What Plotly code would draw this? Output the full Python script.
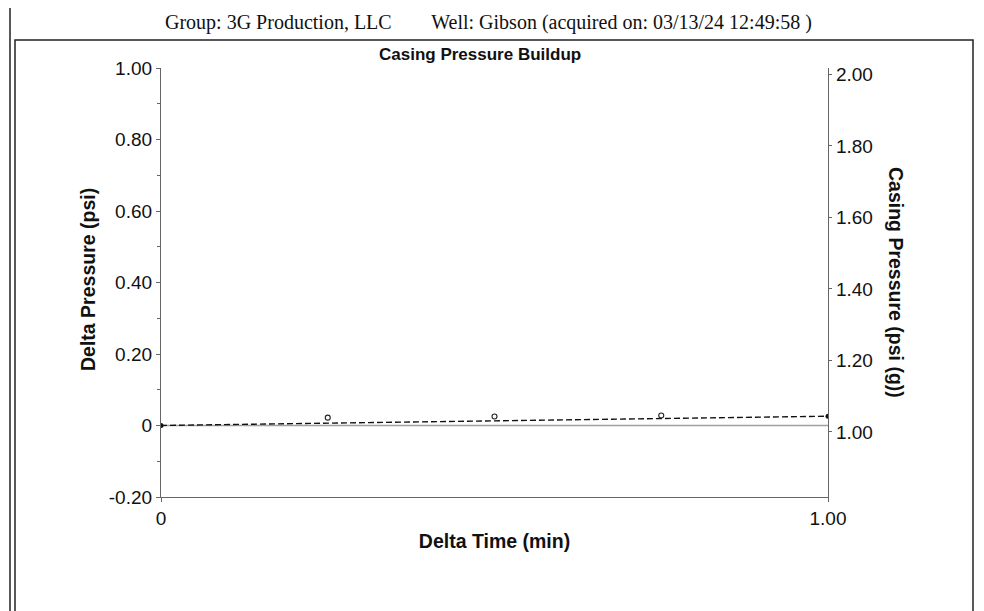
import plotly.graph_objects as go

# ---- data ----
delta_time_pts = [0.25, 0.5, 0.75]
delta_pressure_pts = [0.022, 0.025, 0.028]
trend_time = [0.0, 1.0]
trend_pressure = [0.0, 0.026]
zero_line_x = [0.0, 1.0]
zero_line_y = [0.0, 0.0]

left_ticks = [-0.2, 0.0, 0.2, 0.4, 0.6, 0.8, 1.0]
left_tick_text = ["-0.20", "0", "0.20", "0.40", "0.60", "0.80", "1.00"]
right_ticks = [1.0, 1.2, 1.4, 1.6, 1.8, 2.0]
right_tick_text = ["1.00", "1.20", "1.40", "1.60", "1.80", "2.00"]
x_ticks = [0.0, 1.0]
x_tick_text = ["0", "1.00"]

OFF = 8  # page body margin
W, H = 984 - OFF, 611 - OFF
# screen-space plot box
SL, SR, ST, SB = 161, 828, 68, 497
L, R, T, B = SL - OFF, SR - OFF, ST - OFF, SB - OFF

def px(x):  # screen x -> paper
    return (x - SL) / (SR - SL)

def py(y):  # screen y -> paper
    return (SB - y) / (SB - ST)

fig = go.Figure()
fig.add_trace(go.Scatter(x=zero_line_x, y=zero_line_y, mode="lines",
                         line=dict(color="#a0a0a0", width=1.3), showlegend=False,
                         hoverinfo="skip"))
fig.add_trace(go.Scatter(x=trend_time, y=trend_pressure, mode="lines+markers",
                         line=dict(color="#111", width=1.4, dash="6px,3px"),
                         marker=dict(size=5, color="#111"), showlegend=False))
fig.add_trace(go.Scatter(x=delta_time_pts, y=delta_pressure_pts, mode="markers",
                         marker=dict(size=5, symbol="circle-open", color="#222",
                                     line=dict(width=1.1)), showlegend=False))
# invisible trace for right axis
fig.add_trace(go.Scatter(x=[0], y=[1.0], yaxis="y2", mode="markers",
                         marker=dict(opacity=0), showlegend=False, hoverinfo="skip"))

tickfont = dict(family="Liberation Sans, Arial", size=19, color="#111")
titlefont = dict(family="Liberation Sans, Arial", size=19.5, color="#111")

fig.update_layout(
    width=W, height=H,
    margin=dict(l=L, r=W - R, t=T, b=H - B),
    paper_bgcolor="white", plot_bgcolor="white",
    xaxis=dict(range=[0, 1.0], tickvals=x_ticks, ticktext=x_tick_text,
               showgrid=False, zeroline=False, showline=True, linecolor="#666",
               linewidth=1.2, ticks="outside", ticklen=4, tickcolor="#666",
               tickfont=tickfont,
               title=dict(text="<b>Delta Time (min)</b>", font=titlefont, standoff=6)),
    yaxis=dict(range=[-0.2, 1.0], tickvals=left_ticks, ticktext=left_tick_text,
               showgrid=False, zeroline=False, showline=True, linecolor="#666",
               linewidth=1.2, ticks="outside", ticklen=4, tickcolor="#666",
               tickfont=tickfont,
               minor=dict(dtick=0.1, tick0=0, ticks="outside", ticklen=3, tickcolor="#666"),
               title=dict(text="", font=titlefont)),
    yaxis2=dict(range=[0.818, 2.018], tickvals=right_ticks, ticktext=right_tick_text,
                overlaying="y", side="right", showgrid=False, zeroline=False,
                showline=True, linecolor="#666", linewidth=1.2, ticks="outside",
                ticklen=3, tickcolor="#666", tickfont=tickfont),
    font=dict(family="Liberation Sans, Arial"),
)

ann = dict(xref="paper", yref="paper", showarrow=False, xanchor="center", yanchor="middle")
# titles
fig.add_annotation(x=px(480), y=py(54), text="<b>Casing Pressure Buildup</b>",
                   font=dict(family="Liberation Sans, Arial", size=17, color="#111"), **ann)
fig.add_annotation(x=px(488), y=py(22),
                   text="Group: 3G Production, LLC &nbsp;&nbsp;&nbsp;&nbsp;&nbsp;&nbsp; Well: Gibson (acquired on: 03/13/24 12:49:58 )",
                   font=dict(family="Liberation Serif, Times New Roman", size=20, color="#111"), **ann)
fig.add_annotation(x=px(88), y=py(280), text="<b>Delta Pressure (psi)</b>", textangle=-90,
                   font=titlefont, **ann)
fig.add_annotation(x=px(896), y=py(282), text="<b>Casing Pressure (psi (g))</b>", textangle=90,
                   font=titlefont, **ann)

# frames
frame = dict(type="rect", xref="paper", yref="paper", line=dict(color="#222", width=1.5),
             fillcolor="rgba(0,0,0,0)", layer="below")
fig.add_shape(x0=px(10), x1=px(980), y0=py(640), y1=py(5), **frame)
fig.add_shape(x0=px(15), x1=px(973), y0=py(640), y1=py(40), **frame)

fig.write_html("out.html")
